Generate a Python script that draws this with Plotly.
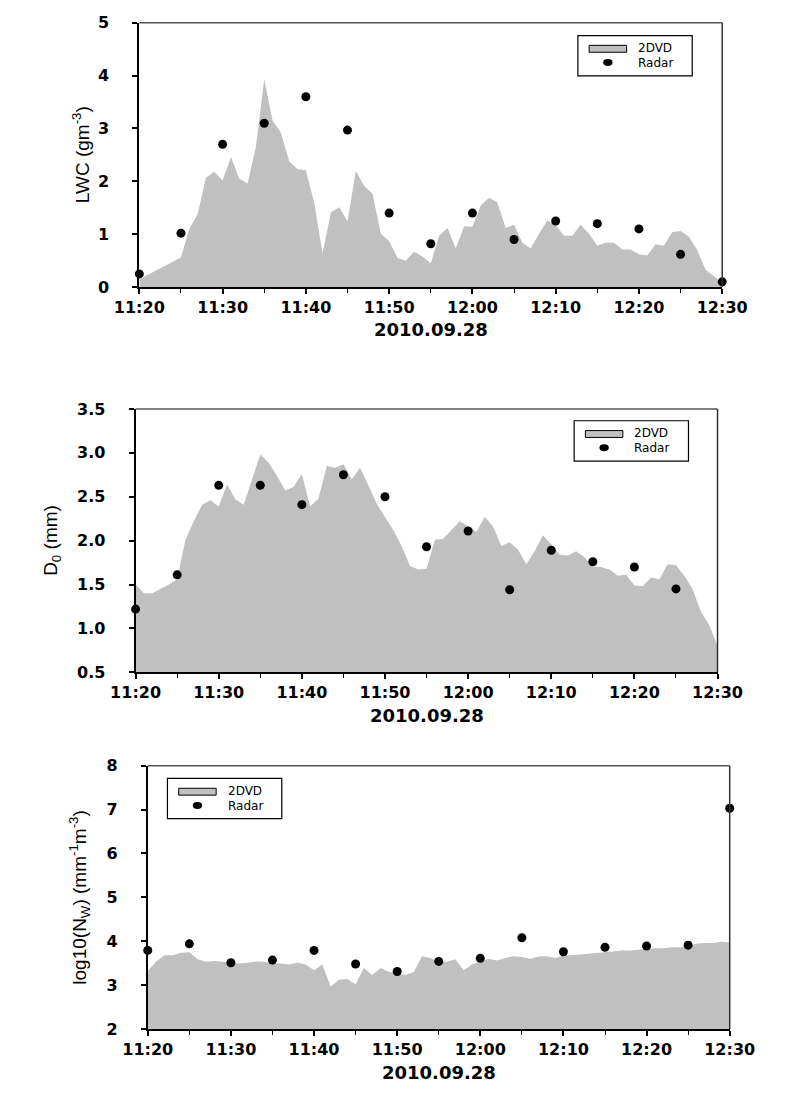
import pandas as pd
import plotly.graph_objects as go

# ---------------- data ----------------
times_2dvd = pd.date_range("2010-09-28 11:20", "2010-09-28 12:30", freq="1min")
times_radar = pd.date_range("2010-09-28 11:20", "2010-09-28 12:30", freq="5min")

lwc_2dvd = [0.15, 0.23, 0.31, 0.39, 0.47, 0.56, 1.10, 1.38, 2.07, 2.18,
            2.02, 2.46, 2.05, 1.96, 2.65, 3.93, 3.15, 2.92, 2.38, 2.23,
            2.21, 1.60, 0.64, 1.41, 1.51, 1.24, 2.20, 1.91, 1.77, 1.01,
            0.87, 0.55, 0.50, 0.67, 0.58, 0.45, 0.97, 1.12, 0.73, 1.15,
            1.14, 1.54, 1.69, 1.60, 1.12, 1.18, 0.84, 0.73, 1.01, 1.26,
            1.17, 0.97, 0.97, 1.18, 1.01, 0.78, 0.84, 0.84, 0.71, 0.71,
            0.62, 0.60, 0.81, 0.78, 1.04, 1.06, 0.95, 0.70, 0.33, 0.20,
            0.08]
lwc_radar = [0.25, 1.02, 2.70, 3.10, 3.60, 2.97, 1.40, 0.82, 1.40, 0.90,
             1.25, 1.20, 1.10, 0.62, 0.10]

d0_2dvd = [1.50, 1.40, 1.40, 1.45, 1.50, 1.56, 2.01, 2.22, 2.41, 2.46,
           2.39, 2.64, 2.47, 2.41, 2.69, 2.98, 2.89, 2.74, 2.57, 2.61,
           2.76, 2.39, 2.48, 2.85, 2.83, 2.87, 2.70, 2.83, 2.63, 2.42,
           2.27, 2.12, 1.94, 1.71, 1.67, 1.68, 2.01, 2.02, 2.12, 2.22,
           2.16, 2.10, 2.27, 2.16, 1.94, 1.98, 1.90, 1.73, 1.88, 2.06,
           1.96, 1.84, 1.83, 1.88, 1.81, 1.70, 1.70, 1.67, 1.60, 1.61,
           1.49, 1.48, 1.58, 1.56, 1.73, 1.72, 1.60, 1.45, 1.19, 1.04,
           0.80]
d0_radar = [1.22, 1.61, 2.63, 2.63, 2.41, 2.75, 2.50, 1.93, 2.11, 1.44,
            1.89, 1.76, 1.70, 1.45]

nw_2dvd = [3.32, 3.53, 3.68, 3.68, 3.74, 3.75, 3.59, 3.53, 3.55, 3.53,
           3.50, 3.49, 3.51, 3.54, 3.53, 3.49, 3.49, 3.47, 3.51, 3.47,
           3.34, 3.47, 2.97, 3.12, 3.14, 3.02, 3.39, 3.23, 3.39, 3.30,
           3.27, 3.23, 3.30, 3.66, 3.62, 3.53, 3.53, 3.59, 3.34, 3.47,
           3.54, 3.60, 3.56, 3.62, 3.66, 3.64, 3.60, 3.65, 3.66, 3.62,
           3.68, 3.68, 3.70, 3.71, 3.73, 3.75, 3.77, 3.79, 3.79, 3.81,
           3.83, 3.84, 3.84, 3.86, 3.86, 3.89, 3.94, 3.96, 3.96, 3.99,
           3.97]
nw_radar = [3.79, 3.94, 3.51, 3.57, 3.79, 3.48, 3.31, 3.54, 3.61, 4.08,
            3.76, 3.86, 3.89, 3.91, 7.03]

x_title = "2010.09.28"
y_titles = ["LWC (gm<sup>-3</sup>)", "D<sub>0</sub> (mm)",
            "log10(N<sub>W</sub>) (mm<sup>-1</sup>m<sup>-3</sup>)"]
y_ranges = [[0, 5], [0.5, 3.5], [2, 8]]
y_dticks = [1, 0.5, 1]
y_formats = ["d", ".1f", "d"]
series_names = ["2DVD", "Radar"]

# ---------------- layout geometry (pixels) ----------------
W, H = 795, 1096
panels = [  # left, right, top, bottom
    (122, 744, 14, 283),
    (118, 739, 407, 675),
    (131, 752, 770, 1038),
]
legend_box = [(590, 27), (586, 419), (152, 783)]   # top-left corner of legend box
LEG_W, LEG_H = 122, 41
ytitle_x = [60, 28, 58]
xtitle_y = [326, 719, 1082]

FILL = "#c0c0c0"
TICKFONT = dict(family="DejaVu Sans", size=16, color="black", weight="bold")


def px(x):
    return x / W


def py(y):
    return 1 - y / H


fig = go.Figure()
twodvd = [lwc_2dvd, d0_2dvd, nw_2dvd]
radar = [lwc_radar, d0_radar, nw_radar]

for i in range(3):
    sfx = "" if i == 0 else str(i + 1)
    fig.add_trace(go.Scatter(
        x=times_2dvd, y=twodvd[i], mode="lines", fill="tozeroy",
        fillcolor=FILL, line=dict(width=0, color=FILL),
        name=series_names[0], xaxis="x" + sfx, yaxis="y" + sfx, showlegend=False))
    fig.add_trace(go.Scatter(
        x=times_radar[:len(radar[i])], y=radar[i], mode="markers",
        marker=dict(color="black", size=9, symbol="circle"),
        cliponaxis=False,
        name=series_names[1], xaxis="x" + sfx, yaxis="y" + sfx, showlegend=False))

layout = dict(
    width=W, height=H, margin=dict(l=0, r=0, t=0, b=0),
    paper_bgcolor="white", plot_bgcolor="white", showlegend=False,
)
shapes = []
annotations = []
for i, (l, r, t, b) in enumerate(panels):
    sfx = "" if i == 0 else str(i + 1)
    layout["xaxis" + sfx] = dict(
        domain=[px(l), px(r)], anchor="y" + sfx, type="date",
        range=["2010-09-28 11:20", "2010-09-28 12:30"],
        tick0="2010-09-28 11:20", dtick=600000, tickformat="%H:%M",
        ticks="outside", ticklen=5, tickwidth=1.5, tickcolor="black",
        minor=dict(dtick=300000, ticks="outside", ticklen=4, tickwidth=1, tickcolor="black"),
        showline=True, linecolor="black", linewidth=2, showgrid=False, zeroline=False,
        tickfont=TICKFONT, ticklabelstandoff=0, fixedrange=True,
    )
    layout["yaxis" + sfx] = dict(
        domain=[py(b), py(t)], anchor="x" + sfx,
        range=y_ranges[i], dtick=y_dticks[i], tick0=y_ranges[i][0], tickformat=y_formats[i],
        ticks="outside", ticklen=5, tickwidth=1.5, tickcolor="black",
        showline=True, linecolor="black", linewidth=2, showgrid=False, zeroline=False,
        tickfont=TICKFONT, ticklabelstandoff=20, fixedrange=True,
    )
    # top and right frame lines (grey)
    shapes.append(dict(type="line", xref="x" + sfx + " domain", yref="y" + sfx + " domain",
                       x0=0, x1=1, y0=1, y1=1, line=dict(color="#555555", width=1.5), layer="above"))
    shapes.append(dict(type="line", xref="x" + sfx + " domain", yref="y" + sfx + " domain",
                       x0=1, x1=1, y0=0, y1=1, line=dict(color="#333333", width=1.5), layer="above"))
    annotations.append(dict(
        text=y_titles[i], textangle=-90, xref="paper", yref="paper",
        x=px(ytitle_x[i]), y=py((t + b) / 2), xanchor="center", yanchor="middle",
        showarrow=False, font=dict(family="Liberation Sans", size=19, color="black")))
    annotations.append(dict(
        text=x_title, xref="paper", yref="paper",
        x=px((l + r) / 2), y=py(xtitle_y[i]), xanchor="center", yanchor="middle",
        showarrow=False, font=dict(family="DejaVu Sans", size=18, color="black", weight="bold")))

    # ---- legend (box, swatch, dot, labels) ----
    bx, by = legend_box[i]
    shapes.append(dict(type="rect", xref="paper", yref="paper",
                       x0=px(bx), x1=px(bx + LEG_W), y0=py(by), y1=py(by + LEG_H),
                       line=dict(color="black", width=1.2), fillcolor="white", layer="above"))
    shapes.append(dict(type="rect", xref="paper", yref="paper",
                       x0=px(bx + 12), x1=px(bx + 52), y0=py(by + 10), y1=py(by + 17),
                       line=dict(color="black", width=1), fillcolor=FILL, layer="above"))
    shapes.append(dict(type="circle", xref="paper", yref="paper",
                       x0=px(bx + 27), x1=px(bx + 37), y0=py(by + 24), y1=py(by + 31),
                       line=dict(color="black", width=0), fillcolor="black", layer="above"))
    for name, dy in zip(series_names, (12.5, 28)):
        annotations.append(dict(
            text=name, xref="paper", yref="paper", x=px(bx + 62), y=py(by + dy),
            xanchor="left", yanchor="middle", showarrow=False,
            font=dict(family="DejaVu Sans", size=12, color="black")))

layout["shapes"] = shapes
layout["annotations"] = annotations
fig.update_layout(**layout)
fig.write_html("out.html")
